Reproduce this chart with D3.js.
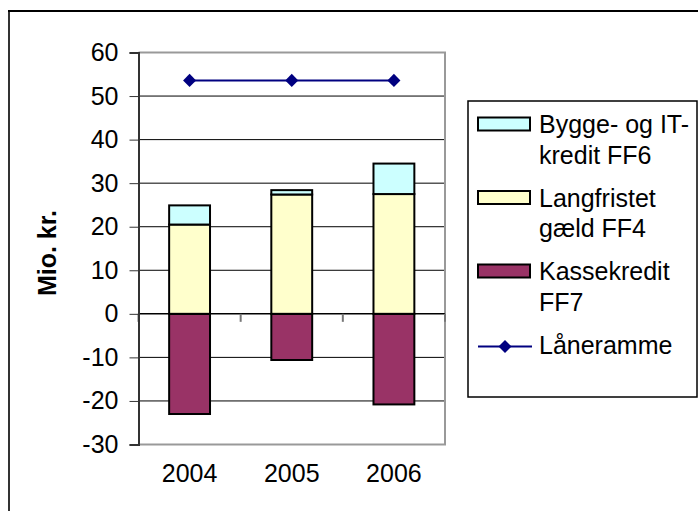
<!DOCTYPE html>
<html>
<head>
<meta charset="utf-8">
<script src="https://cdn.jsdelivr.net/npm/d3@7"></script>
<style>
  body { margin: 0; background: #fff; }
  text { font-family: Arial, "Liberation Sans", sans-serif; fill: #000; }
</style>
</head>
<body>
<div id="chart"></div>
<script>
var years = ["2004", "2005", "2006"];
var kassekredit = [-23.0, -10.6, -20.8];   // FF7
var langfristet = [20.5, 27.4, 27.5];      // FF4
var bygge = [4.4, 1.0, 7.0];               // FF6
var laaneramme = [53.6, 53.6, 53.6];
var yTicks = [-30, -20, -10, 0, 10, 20, 30, 40, 50, 60];

var width = 698, height = 511;
var fontSize = 25;

var svg = d3.select("#chart")
    .append("svg")
    .attr("width", width)
    .attr("height", height);

// outer frame (runs off right and bottom)
svg.append("line").attr("x1", 9).attr("x2", 9).attr("y1", 10).attr("y2", height)
    .attr("stroke", "#333").attr("stroke-width", 2);
svg.append("line").attr("x1", 8).attr("x2", width).attr("y1", 11).attr("y2", 11)
    .attr("stroke", "#000").attr("stroke-width", 2);

var plot = { left: 138.5, right: 445, top: 52.5, bottom: 444.5 };

var y = d3.scaleLinear()
    .domain([-30, 60])
    .range([plot.bottom, plot.top]);

var x = d3.scaleBand()
    .domain(years)
    .range([plot.left, plot.right])
    .paddingInner(0.6)
    .paddingOuter(0.3);

// gridlines
svg.append("g")
    .selectAll("line")
    .data(yTicks.filter(function(d) { return d != 0 && d != 60 && d != -30; }))
    .enter()
    .append("line")
    .attr("x1", plot.left).attr("x2", plot.right)
    .attr("y1", function(d) { return y(d); })
    .attr("y2", function(d) { return y(d); })
    .attr("stroke", "#000").attr("stroke-width", 1);

// plot area border (gray)
svg.append("path")
    .attr("d", "M" + plot.left + "," + y(60) + "H" + plot.right + "V" + y(-30) + "H" + plot.left)
    .attr("fill", "none").attr("stroke", "#999").attr("stroke-width", 2);

// stacked bars
var table = years.map(function(yr, i) {
    return { year: yr, kasse: kassekredit[i], lang: langfristet[i], bygge: bygge[i] };
});
var keys = ["kasse", "lang", "bygge"];
var colors = { kasse: "#993366", lang: "#FFFFCC", bygge: "#CCFFFF" };

var series = d3.stack()
    .keys(keys)
    .offset(d3.stackOffsetDiverging)(table);

svg.append("g")
    .selectAll("g")
    .data(series)
    .enter()
    .append("g")
    .attr("fill", function(d) { return colors[d.key]; })
    .selectAll("rect")
    .data(function(d) { return d; })
    .enter()
    .append("rect")
    .attr("x", function(d) { return x(d.data.year); })
    .attr("y", function(d) { return y(Math.max(d[0], d[1])); })
    .attr("width", x.bandwidth())
    .attr("height", function(d) { return Math.abs(y(d[0]) - y(d[1])); })
    .attr("stroke", "#000")
    .attr("stroke-width", 2);

// zero axis with ticks between categories
svg.append("line")
    .attr("x1", plot.left).attr("x2", plot.right)
    .attr("y1", y(0)).attr("y2", y(0))
    .attr("stroke", "#000").attr("stroke-width", 1.5);

var bounds = [plot.left, plot.left + x.step(), plot.left + 2 * x.step(), plot.right];
svg.append("g")
    .selectAll("line")
    .data(bounds)
    .enter()
    .append("line")
    .attr("x1", function(d) { return d; }).attr("x2", function(d) { return d; })
    .attr("y1", y(0)).attr("y2", y(0) + 8)
    .attr("stroke", "#777").attr("stroke-width", 2);

// y axis
var yAxis = svg.append("g")
    .attr("transform", "translate(" + plot.left + ",0)")
    .call(d3.axisLeft(y).tickValues(yTicks).tickSize(9).tickPadding(11)
        .tickFormat(function(d) { return String(d); }));
yAxis.select(".domain").attr("stroke", "#333").attr("stroke-width", 2);
yAxis.selectAll(".tick line").attr("stroke", "#333");
yAxis.selectAll(".tick text")
    .style("font-size", fontSize + "px")
    .style("font-family", "Arial, 'Liberation Sans', sans-serif")
    .attr("fill", "#000");

// y title
svg.append("text")
    .attr("transform", "translate(56," + 253 + ") rotate(-90)")
    .style("text-anchor", "middle")
    .style("font-size", "25px")
    .style("font-weight", "bold")
    .text("Mio. kr.");

// category labels
svg.append("g")
    .selectAll("text")
    .data(years)
    .enter()
    .append("text")
    .attr("x", function(d) { return x(d) + x.bandwidth() / 2; })
    .attr("y", 482)
    .style("text-anchor", "middle")
    .style("font-size", fontSize + "px")
    .text(function(d) { return d; });

// Låneramme line
var cx = function(d, i) { return x(years[i]) + x.bandwidth() / 2; };
var line = d3.line()
    .x(function(d, i) { return cx(d, i); })
    .y(function(d) { return y(d); });

svg.append("path")
    .datum(laaneramme)
    .attr("d", line)
    .attr("fill", "none")
    .attr("stroke", "#000080")
    .attr("stroke-width", 2);

var diamond = d3.symbol().type(d3.symbolSquare).size(85);
svg.append("g")
    .selectAll("path")
    .data(laaneramme)
    .enter()
    .append("path")
    .attr("d", diamond)
    .attr("transform", function(d, i) { return "translate(" + cx(d, i) + "," + y(d) + ") rotate(45)"; })
    .attr("fill", "#000080");

// legend
var legend = svg.append("g");
legend.append("rect")
    .attr("x", 468).attr("y", 101)
    .attr("width", 229).attr("height", 296)
    .attr("fill", "#fff").attr("stroke", "#000").attr("stroke-width", 1.5);

var legendItems = [
    { key: "bygge", lines: ["Bygge- og IT-", "kredit FF6"], cy: 124 },
    { key: "lang", lines: ["Langfristet", "gæld FF4"], cy: 197.5 },
    { key: "kasse", lines: ["Kassekredit", "FF7"], cy: 271 },
    { key: "line", lines: ["Låneramme"], cy: 345 }
];

legendItems.forEach(function(item) {
    if (item.key == "line") {
        legend.append("line")
            .attr("x1", 478).attr("x2", 532)
            .attr("y1", item.cy + 1.5).attr("y2", item.cy + 1.5)
            .attr("stroke", "#000080").attr("stroke-width", 2);
        legend.append("path")
            .attr("d", diamond)
            .attr("transform", "translate(505," + (item.cy + 1.5) + ") rotate(45)")
            .attr("fill", "#000080");
    } else {
        legend.append("rect")
            .attr("x", 478).attr("y", item.cy - 6.5)
            .attr("width", 52).attr("height", 13)
            .attr("fill", colors[item.key])
            .attr("stroke", "#000").attr("stroke-width", 2);
    }
    item.lines.forEach(function(t, j) {
        legend.append("text")
            .attr("x", 539)
            .attr("y", item.cy + 9 + j * 30.5)
            .style("font-size", fontSize + "px")
            .text(t);
    });
});
</script>
</body>
</html>
